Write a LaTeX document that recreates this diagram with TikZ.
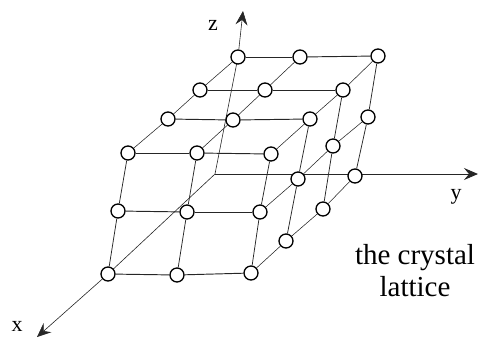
\documentclass[tikz,border=0pt]{standalone}
\usepackage{fontspec}
\setmainfont{Liberation Serif}
\usetikzlibrary{arrows.meta,backgrounds}
\tikzset{
  atom/.style={circle,draw=black,line width=1.3pt,fill=white,minimum size=14pt,inner sep=0pt},
  rowline/.style={draw=black!85,line width=0.95pt},
  depthline/.style={draw=black!85,line width=0.55pt},
  colline/.style={draw=black!85,line width=0.75pt},
  axisline/.style={draw=black!85,line width=0.6pt},
  axisy/.style={draw=black!85,line width=0.95pt},
  tip/.style={-{Stealth[length=14pt,width=12pt,inset=5pt]}},
  axislabel/.style={font=\fontsize{22}{22}\selectfont,inner sep=0pt},
  caption/.style={font=\fontsize{29}{32}\selectfont,inner sep=0pt,align=center}
}
\begin{document}
\begin{tikzpicture}[x=1pt,y=-1pt]
\useasboundingbox (0,0) rectangle (478,338);
% top layer, back to front
\node[atom] (a1) at (238,57) {};
\node[atom] (a2) at (300,57) {};
\node[atom] (a3) at (378,56) {};
\node[atom] (b1) at (200,90) {};
\node[atom] (b2) at (265,90) {};
\node[atom] (b3) at (343,90) {};
\node[atom] (c1) at (168,119) {};
\node[atom] (c2) at (233,120) {};
\node[atom] (c3) at (310,119) {};
\node[atom] (d1) at (128,153) {};
\node[atom] (d2) at (197,153) {};
\node[atom] (d3) at (271,154) {};
% middle layer
\node[atom] (e1) at (118,211) {};
\node[atom] (e2) at (187,212) {};
\node[atom] (e3) at (260,212) {};
\node[atom] (e4) at (298,179) {};
\node[atom] (e5) at (333,146) {};
\node[atom] (e6) at (368,117) {};
% bottom layer
\node[atom] (f1) at (108,274) {};
\node[atom] (f2) at (177,275) {};
\node[atom] (f3) at (251,273) {};
\node[atom] (f4) at (286,241) {};
\node[atom] (f5) at (323,209) {};
\node[atom] (f6) at (355,176) {};
% axes
\coordinate (o) at (215,174);
\coordinate (xtip) at (37,337);
\coordinate (ytip) at (478,174);
\coordinate (ztip) at (243,11);
\begin{scope}[on background layer]
  \draw[axisline] (o) -- (a1.center);
  \draw[axisline] (o) -- (f1.center);
  \draw[axisy,tip] (o) -- (ytip);
\end{scope}
\draw[axisline,tip] (a1) -- (ztip);
\draw[axisline,tip] (f1) -- (xtip);
% rows
\foreach \p/\q in {a1/a2,a2/a3,b1/b2,b2/b3,c1/c2,c2/c3,d1/d2,d2/d3,e1/e2,e2/e3,f1/f2,f2/f3}
  \draw[rowline] (\p) -- (\q);
% depth
\foreach \p/\q in {d1/c1,c1/b1,b1/a1,d2/c2,c2/b2,b2/a2,d3/c3,c3/b3,b3/a3,e3/e4,e4/e5,e5/e6,f3/f4,f4/f5,f5/f6}
  \draw[depthline] (\p) -- (\q);
% columns
\foreach \p/\q in {d1/e1,e1/f1,d2/e2,e2/f2,d3/e3,e3/f3,c3/e4,e4/f4,b3/e5,e5/f5,a3/e6,e6/f6}
  \draw[colline] (\p) -- (\q);
% labels
\node[axislabel] (lz) at (213,25) {z};
\node[axislabel] (ly) at (456,197) {y};
\node[axislabel] (lx) at (17,326) {x};
\node[caption] (cap) at (415,271) {the crystal\\lattice};
\end{tikzpicture}
\end{document}
